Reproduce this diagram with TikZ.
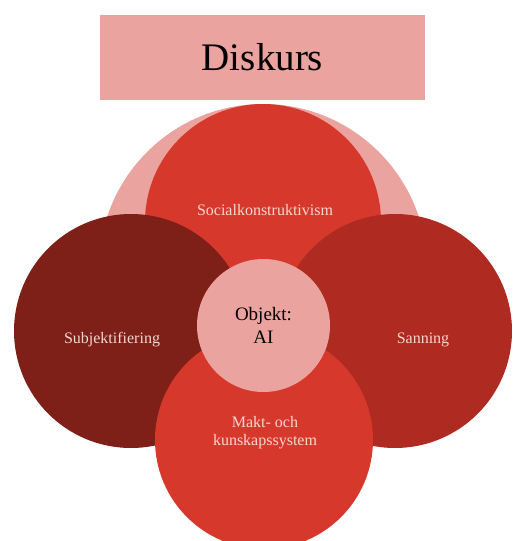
\documentclass[tikz,border=0pt]{standalone}
\usepackage{fontspec}
\setmainfont{Liberation Serif}
\usetikzlibrary{positioning}
\definecolor{palered}{HTML}{EAA39E}
\definecolor{brightred}{HTML}{D6392B}
\definecolor{darkred}{HTML}{7E1F18}
\definecolor{midred}{HTML}{AF2A20}
\definecolor{labelpink}{HTML}{F4D6D2}
\tikzstyle{blob}=[circle,draw=none,inner sep=0pt]
\tikzstyle{lbl}=[text=labelpink,font=\fontsize{16}{18}\selectfont,align=center,inner sep=0pt]

\begin{document}
\begin{tikzpicture}[x=1pt,y=-1pt]
    \useasboundingbox (0,0) rectangle (514,541);
    \node[fill=palered,minimum width=325pt,minimum height=85pt,inner sep=0pt,font=\fontsize{39}{40}\selectfont] (title) at (262.5,57.5) {Diskurs};
    \node[blob,fill=palered,minimum size=328pt] (discourse) at (263,268) {};
    \foreach \pos/\name/\col/\size in { {(263,222)/social/brightred/236pt}, {(131,331)/subj/darkred/234pt}, {(395,331)/truth/midred/234pt}, {(264,440)/power/brightred/218pt}}
        \node[blob,fill=\col,minimum size=\size] (\name) at \pos {};
    \node[blob,fill=palered,minimum size=133pt,font=\fontsize{19}{23}\selectfont,align=center] (object) at (263.5,325.5) {Objekt:\\AI};

    \foreach \pos/\name/\label in { {(265,210)/sociallbl/Socialkonstruktivism}, {(112,340)/subjlbl/Subjektifiering}, {(423,340)/truthlbl/Sanning}, {(265,433)/powerlbl/{Makt- och\\kunskapssystem}}}
        \node[lbl] (\name) at \pos {\label};
\end{tikzpicture}
\end{document}
